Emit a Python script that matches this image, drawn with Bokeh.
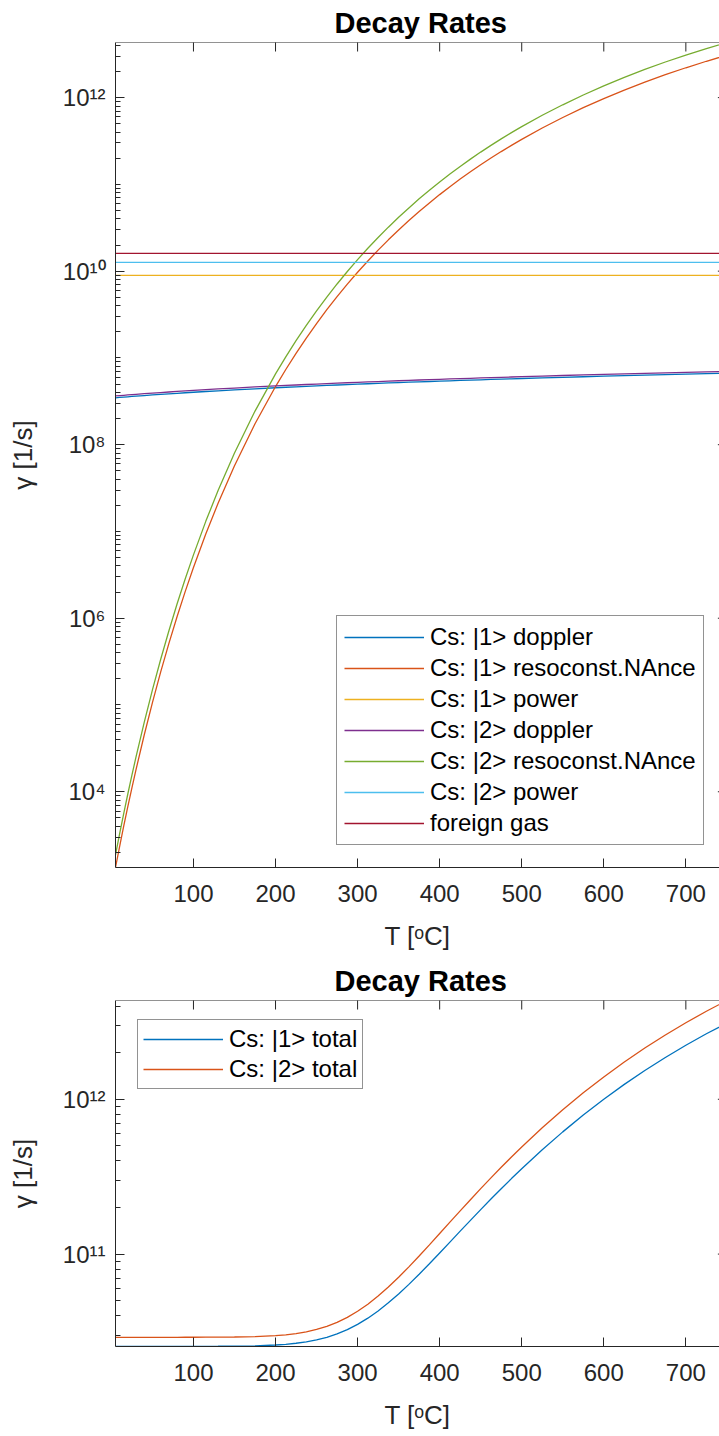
import math
from bokeh.plotting import figure
from bokeh.models import (Range1d, FixedTicker, CustomJSTickFormatter,
                          Legend, LegendItem, Span)
from bokeh.layouts import column
from bokeh.embed import file_html
from bokeh.resources import INLINE

# ---------------- data ----------------
T = [5, 10, 15, 20, 25, 30, 40, 50, 60, 70, 80, 90, 100, 115, 130, 150, 175, 200,
     212.5, 225, 237.5, 250, 262.5, 275, 287.5, 300, 312.5, 325, 337.5, 350, 362.5,
     375, 387.5, 400, 412.5, 425, 437.5, 450, 462.5, 475, 487.5, 500, 525, 550, 575,
     600, 625, 650, 675, 700, 725, 750]

DOPPLER_1 = [3.472e8, 3.503e8, 3.534e8, 3.564e8, 3.595e8, 3.625e8, 3.684e8, 3.742e8,
             3.800e8, 3.856e8, 3.912e8, 3.967e8, 4.021e8, 4.101e8, 4.180e8, 4.282e8,
             4.407e8, 4.528e8, 4.588e8, 4.646e8, 4.704e8, 4.762e8, 4.818e8, 4.874e8,
             4.929e8, 4.984e8, 5.038e8, 5.091e8, 5.144e8, 5.197e8, 5.249e8, 5.300e8,
             5.351e8, 5.401e8, 5.451e8, 5.501e8, 5.550e8, 5.598e8, 5.646e8, 5.694e8,
             5.742e8, 5.789e8, 5.881e8, 5.973e8, 6.063e8, 6.152e8, 6.239e8, 6.325e8,
             6.410e8, 6.494e8, 6.577e8, 6.659e8]

RESONANCE_1 = [1340, 2339, 4009, 6730, 1.109e4, 1.799e4, 4.508e4, 1.067e5, 2.388e5,
               5.093e5, 1.040e6, 2.037e6, 3.837e6, 9.333e6, 2.113e7, 5.715e7, 1.742e8,
               4.677e8, 7.352e8, 1.130e9, 1.695e9, 2.489e9, 3.593e9, 5.082e9, 7.081e9,
               9.705e9, 1.3105e10, 1.746e10, 2.2948e10, 2.979e10, 3.8256e10, 4.864e10,
               6.1134e10, 7.621e10, 9.397e10, 1.151e11, 1.3957e11, 1.683e11, 2.0114e11,
               2.388e11, 2.8184e11, 3.304e11, 4.467e11, 5.902e11, 7.656e11, 9.750e11,
               1.222e12, 1.510e12, 1.837e12, 2.208e12, 2.624e12, 3.083e12]

DOPPLER_2 = [3.644e8, 3.677e8, 3.709e8, 3.741e8, 3.773e8, 3.805e8, 3.867e8, 3.928e8,
             3.988e8, 4.047e8, 4.106e8, 4.164e8, 4.220e8, 4.304e8, 4.387e8, 4.494e8,
             4.626e8, 4.753e8, 4.815e8, 4.876e8, 4.938e8, 4.998e8, 5.057e8, 5.116e8,
             5.174e8, 5.231e8, 5.288e8, 5.344e8, 5.400e8, 5.455e8, 5.509e8, 5.563e8,
             5.616e8, 5.669e8, 5.722e8, 5.774e8, 5.825e8, 5.876e8, 5.927e8, 5.976e8,
             6.026e8, 6.076e8, 6.173e8, 6.269e8, 6.364e8, 6.457e8, 6.549e8, 6.639e8,
             6.728e8, 6.816e8, 6.903e8, 6.989e8]

RESONANCE_2 = [1876, 3275, 5613, 9422, 1.553e4, 2.519e4, 6.311e4, 1.494e5, 3.343e5,
               7.130e5, 1.456e6, 2.852e6, 5.372e6, 1.307e7, 2.958e7, 8.001e7, 2.439e8,
               6.548e8, 1.029e9, 1.582e9, 2.373e9, 3.485e9, 5.030e9, 7.115e9, 9.913e9,
               1.359e10, 1.8347e10, 2.444e10, 3.2127e10, 4.171e10, 5.3558e10, 6.810e10,
               8.5588e10, 1.067e11, 1.3156e11, 1.611e11, 1.954e11, 2.356e11, 2.816e11,
               3.343e11, 3.9458e11, 4.626e11, 6.254e11, 8.263e11, 1.072e12, 1.365e12,
               1.711e12, 2.114e12, 2.572e12, 3.091e12, 3.674e12, 4.316e12]

T_ENDS = [5, 750]
POWER_1 = [8.95e9, 8.95e9]
POWER_2 = [1.26e10, 1.26e10]
FOREIGN_GAS = [1.6e10, 1.6e10]

TOTAL_1 = [2.5297e10, 2.5300e10, 2.5303e10, 2.5306e10, 2.5310e10, 2.5313e10, 2.5318e10,
           2.5324e10, 2.5330e10, 2.5336e10, 2.5341e10, 2.5347e10, 2.5352e10, 2.5369e10,
           2.5389e10, 2.5435e10, 2.5565e10, 2.5870e10, 2.6144e10, 2.6545e10, 2.7115e10,
           2.7915e10, 2.9024e10, 3.0519e10, 3.2524e10, 3.5153e10, 3.8559e10, 4.2919e10,
           4.8412e10, 5.5260e10, 6.3731e10, 7.4120e10, 8.6619e10, 1.0170e11, 1.1947e11,
           1.4060e11, 1.6508e11, 1.9381e11, 2.2665e11, 2.6432e11, 3.0736e11, 3.5593e11,
           4.7224e11, 6.1575e11, 7.9116e11, 1.0006e12, 1.2476e12, 1.5356e12, 1.8626e12,
           2.2337e12, 2.6496e12, 3.1086e12]

TOTAL_2 = [2.8964e10, 2.8968e10, 2.8971e10, 2.8974e10, 2.8977e10, 2.8980e10, 2.8987e10,
           2.8993e10, 2.8999e10, 2.9005e10, 2.9012e10, 2.9019e10, 2.9027e10, 2.9044e10,
           2.9068e10, 2.9129e10, 2.9307e10, 2.9730e10, 3.0111e10, 3.0670e10, 3.1467e10,
           3.2585e10, 3.4136e10, 3.6227e10, 3.9030e10, 4.2713e10, 4.7477e10, 5.3574e10,
           6.1267e10, 7.0856e10, 8.2709e10, 9.7256e10, 1.1475e11, 1.3587e11, 1.6073e11,
           1.9028e11, 2.2458e11, 2.6479e11, 3.1079e11, 3.6350e11, 4.2378e11, 4.9181e11,
           6.5462e11, 8.5553e11, 1.1012e12, 1.3942e12, 1.7403e12, 2.1433e12, 2.6013e12,
           3.1203e12, 3.7033e12, 4.3453e12]

X_TICKS = [100, 200, 300, 400, 500, 600, 700]
Y_TICKS_TOP = [1e4, 1e6, 1e8, 1e10, 1e12]
Y_TICKS_BOTTOM = [1e11, 1e12]

LABELS_TOP = ["Cs: |1> doppler", "Cs: |1> resoconst.NAnce", "Cs: |1> power",
              "Cs: |2> doppler", "Cs: |2> resoconst.NAnce", "Cs: |2> power",
              "foreign gas"]
LABELS_BOTTOM = ["Cs: |1> total", "Cs: |2> total"]

COLORS = ["#0072BD", "#D95319", "#EDB120", "#7E2F8E", "#77AC30", "#4DBEEE", "#A2142F"]

# ---------------- styling ----------------
FONT = "Liberation Sans"
AX = "#262626"
X_VIEW_END = 741  # right edge of the visible (cropped) axes

SUP = CustomJSTickFormatter(code=r"""
const sup = {"0":"\u2070","1":"\u00b9","2":"\u00b2","3":"\u00b3","4":"\u2074",
             "5":"\u2075","6":"\u2076","7":"\u2077","8":"\u2078","9":"\u2079","-":"\u207b"};
const e = Math.round(Math.log10(tick));
return "10" + String(e).split("").map(c => sup[c]).join("");
""")


def minor_log(lo, hi):
    out = []
    for n in range(int(lo) - 1, int(hi) + 2):
        for k in range(1, 10):
            out.append(k * 10.0 ** n)
    return out


def make_fig(height, ymin, ymax, major, minor, bottom_border):
    p = figure(width=719, height=height, x_range=Range1d(T[0], X_VIEW_END),
               y_range=Range1d(ymin, ymax), y_axis_type="log",
               output_backend="svg", toolbar_location=None,
               min_border_left=115, min_border_right=0, min_border_top=42,
               min_border_bottom=bottom_border)
    p.outline_line_color = None
    p.xgrid.visible = False
    p.ygrid.visible = False
    p.background_fill_color = "white"
    p.border_fill_color = "white"

    p.title.text = "Decay Rates"
    p.title.text_font = FONT
    p.title.text_font_size = "29px"
    p.title.text_font_style = "bold"
    p.title.text_color = "black"
    p.title.align = "left"
    p.title.offset = 219
    p.title.standoff = 8

    xa = p.xaxis[0]
    xa.ticker = FixedTicker(ticks=X_TICKS)
    xa.axis_label = "T [\u1d52C]"
    ya = p.yaxis[0]
    ya.ticker = FixedTicker(ticks=major, minor_ticks=minor)
    ya.formatter = SUP
    ya.axis_label = "\u03b3 [1/s]"
    for ax in (xa, ya):
        ax.axis_line_color = AX
        ax.axis_line_width = 1
        ax.major_tick_line_color = AX
        ax.minor_tick_line_color = AX
        ax.major_tick_in = 9
        ax.major_tick_out = 0
        ax.minor_tick_in = 5
        ax.minor_tick_out = 0
        ax.major_label_text_font = FONT
        ax.major_label_text_font_size = "24px"
        ax.major_label_text_color = AX
        ax.axis_label_text_font = FONT
        ax.axis_label_text_font_size = "26px"
        ax.axis_label_text_font_style = "normal"
        ax.axis_label_text_color = AX
    xa.major_label_standoff = 17
    xa.axis_label_standoff = 16
    ya.major_label_standoff = 10
    ya.axis_label_standoff = 22

    # box: top edge line, inward ticks on top edge and (cropped) right edge
    p.add_layout(Span(location=ymax, dimension="width", line_color=AX, line_width=1))
    p.scatter(X_TICKS, [ymax] * len(X_TICKS), marker="dash", angle=math.pi / 2,
              size=18, line_color=AX, line_width=1)
    p.scatter([T[-1]] * len(major), major, marker="dash", size=18,
              line_color=AX, line_width=1)
    return p


# ---------------- top plot ----------------
top_series = [DOPPLER_1, RESONANCE_1, POWER_1, DOPPLER_2, RESONANCE_2, POWER_2, FOREIGN_GAS]
top_x = [T, T, T_ENDS, T, T, T_ENDS, T_ENDS]
y_lo = min(min(s) for s in top_series)
y_hi = max(max(s) for s in top_series)
p1 = make_fig(958, y_lo, y_hi, Y_TICKS_TOP, minor_log(3, 12), 91)

items = []
for xs, ys, c, lab in zip(top_x, top_series, COLORS, LABELS_TOP):
    r = p1.line(xs, ys, line_color=c, line_width=1.3)
    items.append(LegendItem(label=lab, renderers=[r]))

leg1 = Legend(items=items, location=(221, 22), glyph_width=80, glyph_height=26,
              label_height=26, spacing=3, padding=7, label_standoff=6,
              label_text_font=FONT, label_text_font_size="24px", label_text_color="black",
              border_line_color=AX, border_line_width=1, background_fill_color="white",
              background_fill_alpha=1, margin=0)
p1.add_layout(leg1)

# ---------------- bottom plot ----------------
b_lo = min(min(TOTAL_1), min(TOTAL_2))
b_hi = max(max(TOTAL_1), max(TOTAL_2))
p2 = make_fig(478, b_lo, b_hi, Y_TICKS_BOTTOM, minor_log(10, 12), 90)
items2 = []
for ys, c, lab in zip([TOTAL_1, TOTAL_2], COLORS[:2], LABELS_BOTTOM):
    r = p2.line(T, ys, line_color=c, line_width=1.3)
    items2.append(LegendItem(label=lab, renderers=[r]))
leg2 = Legend(items=items2, location=(22, 257), glyph_width=80, glyph_height=26,
              label_height=26, spacing=2, padding=5, label_standoff=6,
              label_text_font=FONT, label_text_font_size="24px", label_text_color="black",
              border_line_color=AX, border_line_width=1, background_fill_color="white",
              background_fill_alpha=1, margin=0)
p2.add_layout(leg2)

layout = column(p1, p2, spacing=0)
open("out.html", "w").write(file_html(layout, INLINE))
